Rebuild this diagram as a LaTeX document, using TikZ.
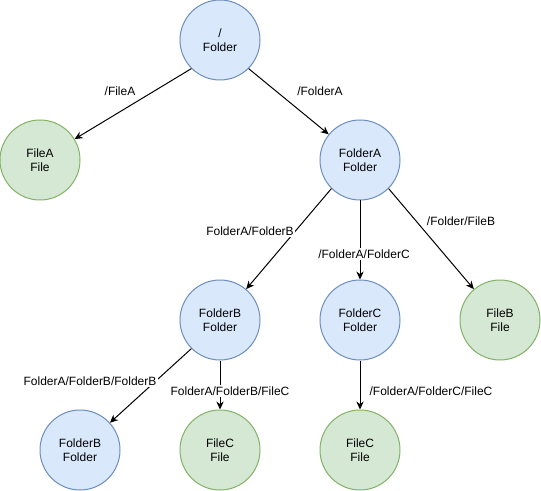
\documentclass[tikz,border=0pt]{standalone}
\usepackage{fontspec}
\setmainfont{Liberation Sans}
\usepackage{tikz}
\usetikzlibrary{arrows.meta, positioning}
\definecolor{folderfill}{HTML}{DAE8FC}
\definecolor{folderline}{HTML}{6C8EBF}
\definecolor{filefill}{HTML}{D5E8D4}
\definecolor{fileline}{HTML}{82B366}
\begin{document}
\begin{tikzpicture}[>={Stealth[length=6pt,width=5.5pt]},x=0.75pt,y=-0.75pt,
	every node/.style={font=\fontsize{9}{10.5}\selectfont, align=center},
	folder/.style={circle, draw=folderline, fill=folderfill, line width=0.75pt, minimum size=60pt, inner sep=0pt},
	file/.style={circle, draw=fileline, fill=filefill, line width=0.75pt, minimum size=60pt, inner sep=0pt},
	link/.style={->, line width=0.75pt},
	path label/.style={fill=white, inner sep=1pt}]
				\useasboundingbox (0,0) rectangle (541,491);

				% Draw the tree nodes
				\node[folder] (root) at (220,40) {/\\Folder};
				\node[file] (fileA) at (40,160) {FileA\\File};
				\node[folder] (folderA) at (360,160) {FolderA\\Folder};
				\node[folder] (folderB) at (220,320) {FolderB\\Folder};
				\node[folder] (folderC) at (360,320) {FolderC\\Folder};
				\node[file] (fileB) at (500,320) {FileB\\File};
				\node[folder] (folderBB) at (80,450) {FolderB\\Folder};
				\node[file] (fileCB) at (220,450) {FileC\\File};
				\node[file] (fileCC) at (360,450) {FileC\\File};

				% Draw the links
				\draw[link] (root.-135) -- (fileA);
				\draw[link] (root.-45) -- (folderA);
				\draw[link] (folderA.-135) -- (folderB);
				\draw[link] (folderA) -- (folderC);
				\draw[link] (folderA.-45) -- (fileB);
				\draw[link] (folderB.-135) -- (folderBB);
				\draw[link] (folderB) -- (fileCB);
				\draw[link] (folderC) -- (fileCC);

				% Place the path labels
				\node[path label] (pFileA) at (120,91) {/FileA};
				\node[path label] (pFolderA) at (320,91) {/FolderA};
				\node[path label] (pFolderB) at (250,231) {FolderA/FolderB};
				\node[path label] (pFolderC) at (364,254) {/FolderA/FolderC};
				\node[path label] (pFileB) at (461,221) {/Folder/FileB};
				\node[path label] (pFolderBB) at (90,381) {FolderA/FolderB/FolderB};
				\node[path label] (pFileCB) at (230,391) {FolderA/FolderB/FileC};
				\node[path label] (pFileCC) at (431,391) {/FolderA/FolderC/FileC};
\end{tikzpicture}
\end{document}
